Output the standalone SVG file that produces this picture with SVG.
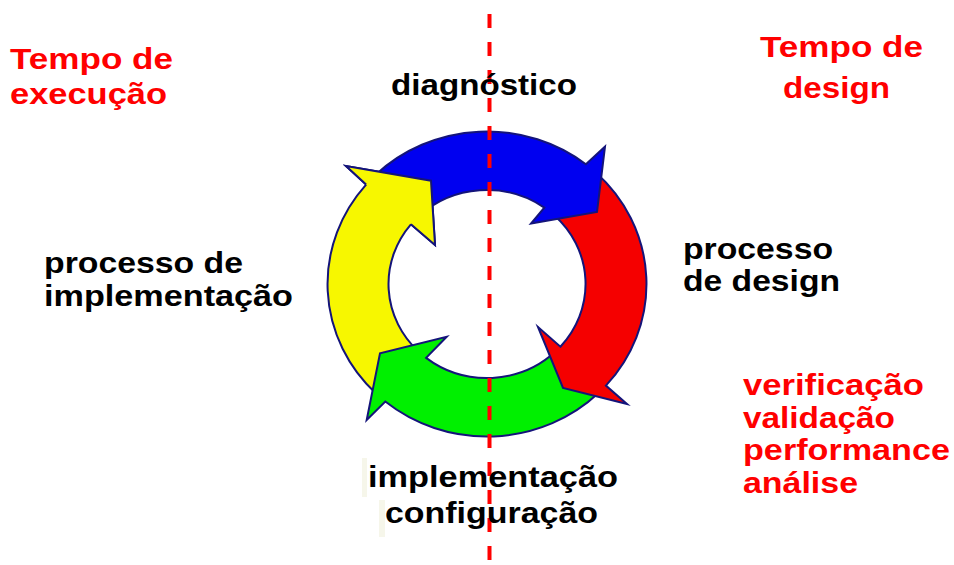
<svg xmlns="http://www.w3.org/2000/svg" width="954" height="565" viewBox="0 0 954 565">
  <defs>
    <style>
      .arrow { stroke: #14147a; stroke-width: 2; stroke-linejoin: miter; stroke-miterlimit: 10; }
      .blue { fill: #0000f0; }
      .red { fill: #f50000; }
      .green { fill: #00f000; }
      .yellow { fill: #f7f700; }
      .lbl { font-family: "Liberation Sans", Arial, sans-serif; font-weight: bold; font-size: 30px; }
      .red-t { fill: #ff0000; }
      .black-t { fill: #000000; }
      .sep { stroke: #ff0000; stroke-width: 4; stroke-dasharray: 14 14; fill: none; }
    </style>
  </defs>
  <rect width="954" height="565" fill="#ffffff"/>

  <g id="cycle">
    <g id="arrow-implementacao">
      <path class="arrow yellow" d="M376.2,393.7 A159.5,152.5 0 0 1 366.1,184.6 L346,166 L431,180.7 L435,245 L410.9,224.3 A98.5,94 0 0 0 418.6,351.6 Z"/>
    </g>
    <g id="arrow-implementacao-configuracao">
      <path class="arrow green" d="M598.8,392.8 A159.5,152.5 0 0 1 385.3,401.5 L366.7,420 L380,353.3 L446.7,336.7 L426.1,357.9 A98.5,94 0 0 0 556.0,351.1 Z"/>
    </g>
    <g id="arrow-design">
      <path class="arrow red" d="M595.8,172.5 A159.5,152.5 0 0 1 605.9,385.6 L627,404 L563,388 L538,327 L560.4,346.7 A98.5,94 0 0 0 554.2,215.2 Z"/>
    </g>
    <g id="arrow-diagnostico">
      <path class="arrow blue" d="M376.2,174.3 A159.5,152.5 0 0 1 585.9,164.3 L605,146.5 L597,212 L531,223.5 L544.3,207.6 A98.5,94 0 0 0 418.6,216.4 Z"/>
    </g>
    <path class="arrow yellow" d="M366.1,184.6 L346,166 L431,180.7 L435,245 L410.9,224.3"/>
  </g>

  <g id="connectors">
    <line class="sep" x1="489.5" y1="14" x2="489.5" y2="565"/>
  </g>

  <g id="label-tempo-execucao" class="lbl red-t">
    <text x="10" y="69" textLength="163" lengthAdjust="spacingAndGlyphs">Tempo de</text>
    <text x="10" y="104" textLength="157" lengthAdjust="spacingAndGlyphs">execução</text>
  </g>
  <g id="label-tempo-design" class="lbl red-t">
    <text x="760" y="57" textLength="163" lengthAdjust="spacingAndGlyphs">Tempo de</text>
    <text x="783" y="98" textLength="107" lengthAdjust="spacingAndGlyphs">design</text>
  </g>
  <g id="label-diagnostico" class="lbl black-t">
    <text x="391" y="95" textLength="186" lengthAdjust="spacingAndGlyphs">diagnóstico</text>
  </g>
  <g id="label-processo-implementacao" class="lbl black-t">
    <text x="44" y="273" textLength="199" lengthAdjust="spacingAndGlyphs">processo de</text>
    <text x="44" y="306" textLength="249" lengthAdjust="spacingAndGlyphs">implementação</text>
  </g>
  <g id="label-processo-design" class="lbl black-t">
    <text x="683" y="259" textLength="150" lengthAdjust="spacingAndGlyphs">processo</text>
    <text x="683" y="291" textLength="157" lengthAdjust="spacingAndGlyphs">de design</text>
  </g>
  <g id="label-verificacao" class="lbl red-t">
    <text x="743" y="395" textLength="181" lengthAdjust="spacingAndGlyphs">verificação</text>
    <text x="743" y="428" textLength="152" lengthAdjust="spacingAndGlyphs">validação</text>
    <text x="743" y="460" textLength="207" lengthAdjust="spacingAndGlyphs">performance</text>
    <text x="743" y="493" textLength="115" lengthAdjust="spacingAndGlyphs">análise</text>
  </g>
  <g id="label-implementacao-configuracao" class="lbl black-t">
    <rect x="362" y="458" width="5" height="39" fill="#f6f6ea"/>
    <rect x="379" y="500" width="6" height="37" fill="#f6f6ea"/>
    <text x="368" y="487" textLength="250" lengthAdjust="spacingAndGlyphs">implementação</text>
    <text x="385" y="523" textLength="213" lengthAdjust="spacingAndGlyphs">configuração</text>
  </g>
</svg>
